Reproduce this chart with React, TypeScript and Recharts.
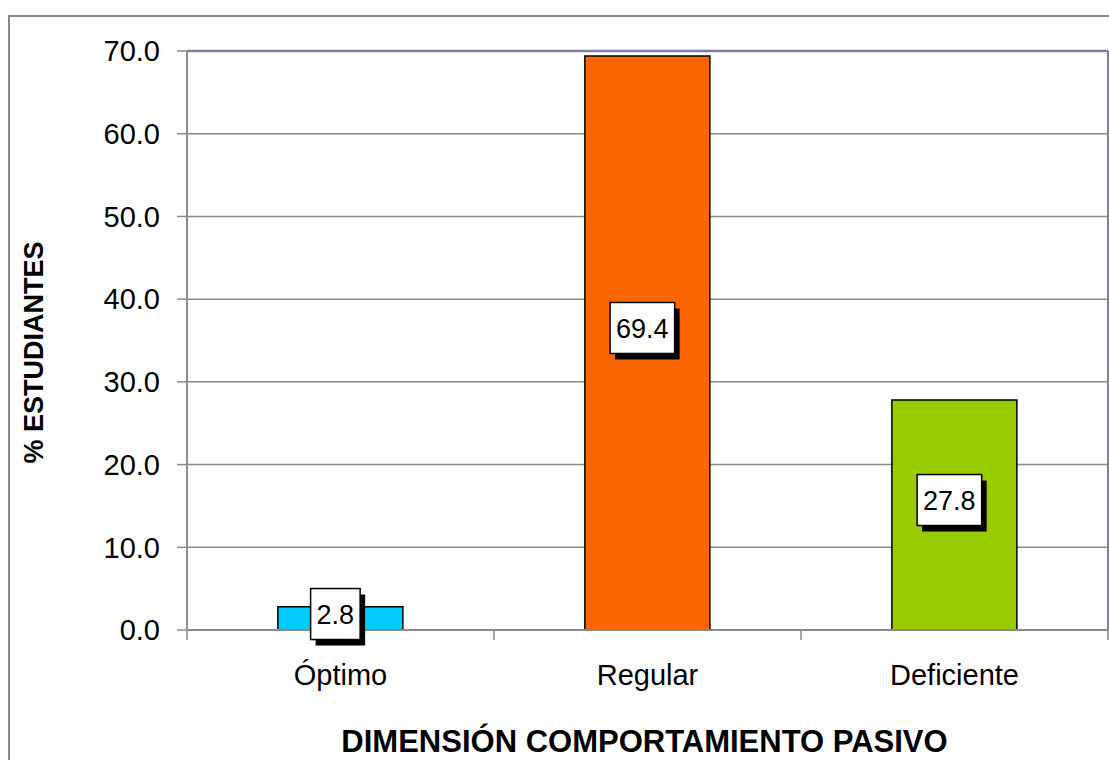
import React from 'react';
import {
    BarChart,
    Bar,
    XAxis,
    YAxis,
    CartesianGrid,
    ReferenceLine,
    LabelList,
    Cell,
} from 'recharts';

// values
const categories = ['Óptimo', 'Regular', 'Deficiente'];
const percentages = [2.8, 69.4, 27.8];
const barColors = ['#00CCFF', '#FF6600', '#99CC00'];
const yTicks = [0, 10, 20, 30, 40, 50, 60, 70];

const xTitle = 'DIMENSIÓN COMPORTAMIENTO PASIVO';
const yTitle = '% ESTUDIANTES';

const chartData = categories.map((name, i) => ({
    name,
    pct: percentages[i],
}));

const FONT = '"Liberation Sans", Arial, sans-serif';
const GRAY = '#8a8a8a';
const BLUE_GRAY = '#7e7ea8';

const WIDTH = 1109;
const HEIGHT = 760;
const MARGIN = { top: 51, right: 0, left: 0, bottom: 0 };
const Y_AXIS_W = 187;
const X_AXIS_H = 130;
const PLOT_W = WIDTH - Y_AXIS_W - 1;
const BAND = PLOT_W / categories.length;

// rough Arial widths so the box fits the number
const textWidth = (s: string, size: number) =>
    s.split('').reduce((w, c) => w + (c === '.' ? 0.278 : 0.556) * size, 0);

// x tick: category name plus a tick mark on the left band edge (and right edge for the last)
const CategoryTick = (props: any) => {
    const { x, y, payload, index } = props;
    const left = x - BAND / 2;
    const right = x + BAND / 2;
    return (
        <g>
            <line x1={left} x2={left} y1={y} y2={y + 10} stroke={GRAY} strokeWidth={1.5} />
            {index === categories.length - 1 && (
                <line x1={right} x2={right} y1={y} y2={y + 10} stroke={GRAY} strokeWidth={1.5} />
            )}
            <text x={x} y={y + 55} textAnchor="middle" fontSize={29} fontFamily={FONT} fill="#000">
                {payload.value}
            </text>
        </g>
    );
};

// white box with black drop shadow, like the excel data labels
const BoxLabel = (props: any) => {
    const { x, y, width, height, value } = props;
    const text = Number(value).toFixed(1);
    const fs = 27;
    const bw = textWidth(text, fs) + 12;
    const bh = 51;
    const cx = x + width / 2 - 2.5;
    const cy = y + height / 2 - Math.min(12, height * 0.06);
    const bx = cx - bw / 2 - 2.5;
    const by = cy - bh / 2 - 3;
    return (
        <g>
            <rect x={bx + 5} y={by + 6} width={bw} height={bh} fill="#000" />
            <rect x={bx} y={by} width={bw} height={bh} fill="#fff" stroke="#000" strokeWidth={1.5} />
            <text
                x={bx + bw / 2}
                y={by + bh / 2 + fs * 0.36}
                textAnchor="middle"
                fontSize={fs}
                fontFamily={FONT}
                fill="#000"
            >
                {text}
            </text>
        </g>
    );
};

const renderXTitle = (props: any) => {
    const { viewBox } = props;
    return (
        <text
            x={viewBox.x + viewBox.width / 2 - 3}
            y={viewBox.y + 122}
            textAnchor="middle"
            fontSize={31}
            fontWeight="bold"
            fontFamily={FONT}
            fill="#000"
        >
            {xTitle}
        </text>
    );
};

const renderYTitle = (props: any) => {
    const { viewBox } = props;
    const tx = 43;
    const ty = viewBox.y + viewBox.height / 2 + 12;
    return (
        <text
            x={tx}
            y={ty}
            transform={`rotate(-90, ${tx}, ${ty})`}
            textAnchor="middle"
            fontSize={27}
            fontWeight="bold"
            fontFamily={FONT}
            fill="#000"
        >
            {yTitle}
        </text>
    );
};

export default function App() {
    return (
        <div
            style={{
                position: 'absolute',
                left: 0,
                top: 0,
                width: WIDTH,
                height: HEIGHT,
                overflow: 'hidden',
                background: '#fff',
            }}
        >
            {/* outer chart frame, its right and bottom edges fall outside the picture */}
            <div
                style={{
                    position: 'absolute',
                    left: 8,
                    top: 15,
                    width: 1200,
                    height: 900,
                    border: '2px solid #888',
                }}
            />
            <div style={{ position: 'absolute', left: 0, top: 0 }}>
                <BarChart
                    width={WIDTH}
                    height={HEIGHT}
                    data={chartData}
                    margin={MARGIN}
                    barCategoryGap="29.6%"
                >
                    <CartesianGrid vertical={false} stroke={GRAY} strokeWidth={1.5} />
                    <XAxis
                        dataKey="name"
                        height={X_AXIS_H}
                        tickLine={false}
                        tickSize={0}
                        tickMargin={0}
                        axisLine={{ stroke: GRAY, strokeWidth: 2 }}
                        tick={<CategoryTick />}
                        interval={0}
                        label={renderXTitle}
                    />
                    <YAxis
                        width={Y_AXIS_W}
                        domain={[0, 70]}
                        ticks={yTicks}
                        interval={0}
                        tickSize={10}
                        tickMargin={17}
                        tickLine={{ stroke: GRAY, strokeWidth: 1.5 }}
                        axisLine={{ stroke: '#8c8c9a', strokeWidth: 2 }}
                        tickFormatter={(v: number) => v.toFixed(1)}
                        tick={{ fontSize: 29, fontFamily: FONT, fill: '#000' }}
                        label={renderYTitle}
                    />
                    <YAxis
                        yAxisId="r"
                        orientation="right"
                        width={1}
                        domain={[0, 70]}
                        tick={false}
                        tickLine={false}
                        axisLine={{ stroke: BLUE_GRAY, strokeWidth: 2 }}
                    />
                    <ReferenceLine y={70} stroke={BLUE_GRAY} strokeWidth={2.5} />
                    <Bar dataKey="pct" stroke="#000" strokeWidth={1.5} isAnimationActive={false}>
                        {chartData.map((d, i) => (
                            <Cell key={d.name} fill={barColors[i]} />
                        ))}
                        <LabelList dataKey="pct" content={<BoxLabel />} />
                    </Bar>
                </BarChart>
            </div>
        </div>
    );
}
